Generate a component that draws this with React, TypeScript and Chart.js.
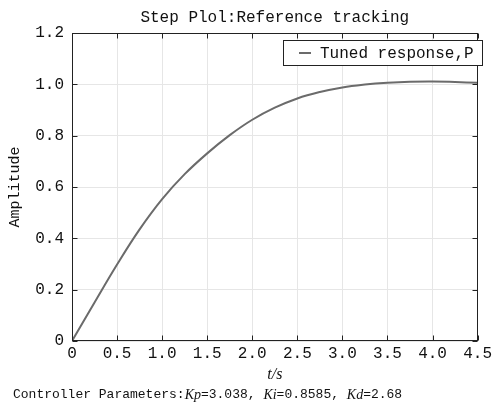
import React, { useEffect, useRef } from 'react';
import { Chart, registerables } from 'chart.js';

Chart.register(...registerables);

const timeValues = [0, 0.25, 0.5, 0.75, 1.0, 1.25, 1.5, 1.75, 2.0, 2.25, 2.5, 2.75, 3.0, 3.25, 3.5, 3.75, 4.0, 4.25, 4.5];
const amplitudeValues = [0, 0.15, 0.298, 0.435, 0.553, 0.65, 0.731, 0.802, 0.862, 0.909, 0.945, 0.97, 0.988, 0.999, 1.006, 1.01, 1.011, 1.009, 1.006];

const xTickLabels = ['0', '0.5', '1.0', '1.5', '2.0', '2.5', '3.0', '3.5', '4.0', '4.5'];
const yTickLabels = ['0', '0.2', '0.4', '0.6', '0.8', '1.0', '1.2'];

const seriesLabel = 'Tuned response,P';
const chartTitle = 'Step Plol:Reference tracking';
const xAxisTitle = 't/s';
const yAxisTitle = 'Amplitude';
const footerParts = [
  { text: 'Controller Parameters:', italic: false },
  { text: 'Kp', italic: true },
  { text: '=3.038, ', italic: false },
  { text: 'Ki', italic: true },
  { text: '=0.8585, ', italic: false },
  { text: 'Kd', italic: true },
  { text: '=2.68', italic: false },
];

const MONO = '"Liberation Mono", "DejaVu Sans Mono", monospace';
const SERIF = '"Liberation Serif", "DejaVu Serif", serif';
const TEXT = '#111';
const LINE_COLOR = '#6b6b6b';

const decorPlugin = {
  id: 'decor',
  afterDraw(chart: any) {
    const { ctx, chartArea, scales } = chart;
    const { left, right, top, bottom } = chartArea;
    const x = scales.x;
    const y = scales.y;
    const L = Math.round(left) + 0.5;
    const R = Math.round(right) - 0.5;
    const T = Math.round(top) + 0.5;
    const B = Math.round(bottom) - 0.5;
    ctx.save();
    ctx.strokeStyle = '#222';
    ctx.lineWidth = 1;
    const seg = (x1: number, y1: number, x2: number, y2: number) => {
      ctx.beginPath();
      ctx.moveTo(x1, y1);
      ctx.lineTo(x2, y2);
      ctx.stroke();
    };
    x.ticks.forEach((t: any) => {
      const px = Math.round(x.getPixelForValue(t.value)) + 0.5;
      seg(px, B, px, B - 5);
      seg(px, T, px, T + 5);
    });
    y.ticks.forEach((t: any) => {
      const py = Math.round(y.getPixelForValue(t.value)) + 0.5;
      seg(L, py, L + 5, py);
      seg(R, py, R - 5, py);
    });
    ctx.strokeRect(L, T, R - L, B - T);

    // Title
    ctx.fillStyle = TEXT;
    ctx.font = `16px ${MONO}`;
    ctx.textAlign = 'center';
    ctx.textBaseline = 'middle';
    ctx.fillText(chartTitle, (left + right) / 2, 18);

    // Y axis title
    ctx.save();
    ctx.translate(15, (top + bottom) / 2);
    ctx.rotate(-Math.PI / 2);
    ctx.font = `15px ${MONO}`;
    ctx.fillText(yAxisTitle, 0, 0);
    ctx.restore();

    // X axis title
    ctx.font = `italic 16px ${SERIF}`;
    ctx.fillText(xAxisTitle, (left + right) / 2, 375);

    // Footer
    ctx.textAlign = 'left';
    let fx = 13;
    footerParts.forEach((p) => {
      ctx.font = p.italic ? `italic 14px ${SERIF}` : `13px ${MONO}`;
      ctx.fillText(p.text, fx, 395);
      fx += ctx.measureText(p.text).width;
    });

    // Legend
    const lx = 283.5, ly = 40.5, lw = 199, lh = 25;
    ctx.fillStyle = '#fff';
    ctx.fillRect(lx, ly, lw, lh);
    ctx.strokeStyle = '#222';
    ctx.lineWidth = 1;
    ctx.strokeRect(lx, ly, lw, lh);
    ctx.strokeStyle = LINE_COLOR;
    ctx.lineWidth = 2;
    seg(299, ly + lh / 2, 311, ly + lh / 2);
    ctx.fillStyle = TEXT;
    ctx.font = `16px ${MONO}`;
    ctx.textBaseline = 'middle';
    ctx.fillText(chart.data.datasets[0].label, 320, ly + lh / 2 + 1);
    ctx.restore();
  },
};

export default function App() {
  const canvasRef = useRef<HTMLCanvasElement | null>(null);

  useEffect(() => {
    if (!canvasRef.current) return;
    const chart = new Chart(canvasRef.current, {
      type: 'line',
      data: {
        datasets: [
          {
            label: seriesLabel,
            data: timeValues.map((t, i) => ({ x: t, y: amplitudeValues[i] })),
            borderColor: LINE_COLOR,
            borderWidth: 2,
            pointRadius: 0,
            tension: 0.4,
            fill: false,
          },
        ],
      },
      options: {
        responsive: false,
        animation: false,
        devicePixelRatio: 1,
        layout: { padding: { top: 33, right: 8, left: 0, bottom: 0 } },
        plugins: {
          legend: { display: false },
          title: { display: false },
          tooltip: { enabled: false },
        },
        scales: {
          x: {
            type: 'linear',
            min: 0,
            max: 4.5,
            afterFit: (s: any) => {
              s.height = 66;
            },
            ticks: {
              stepSize: 0.5,
              autoSkip: false,
              maxRotation: 0,
              padding: 3,
              color: TEXT,
              font: { family: MONO, size: 16 },
              callback: (_v: any, i: number) => xTickLabels[i],
            },
            grid: { color: '#e6e6e6', drawTicks: false },
            border: { display: false },
          },
          y: {
            type: 'linear',
            min: 0,
            max: 1.2,
            afterFit: (s: any) => {
              s.width = 72;
            },
            ticks: {
              stepSize: 0.2,
              autoSkip: false,
              padding: 8,
              color: TEXT,
              font: { family: MONO, size: 16 },
              callback: (_v: any, i: number) => yTickLabels[i],
            },
            grid: { color: '#e6e6e6', drawTicks: false },
            border: { display: false },
          },
        },
      },
      plugins: [decorPlugin],
    } as any);
    return () => chart.destroy();
  }, []);

  return (
    <div style={{ position: 'fixed', left: 0, top: 0, width: 495, height: 407, background: '#fff' }}>
      <canvas ref={canvasRef} width={495} height={407} style={{ width: 495, height: 407, display: 'block' }} />
    </div>
  );
}
